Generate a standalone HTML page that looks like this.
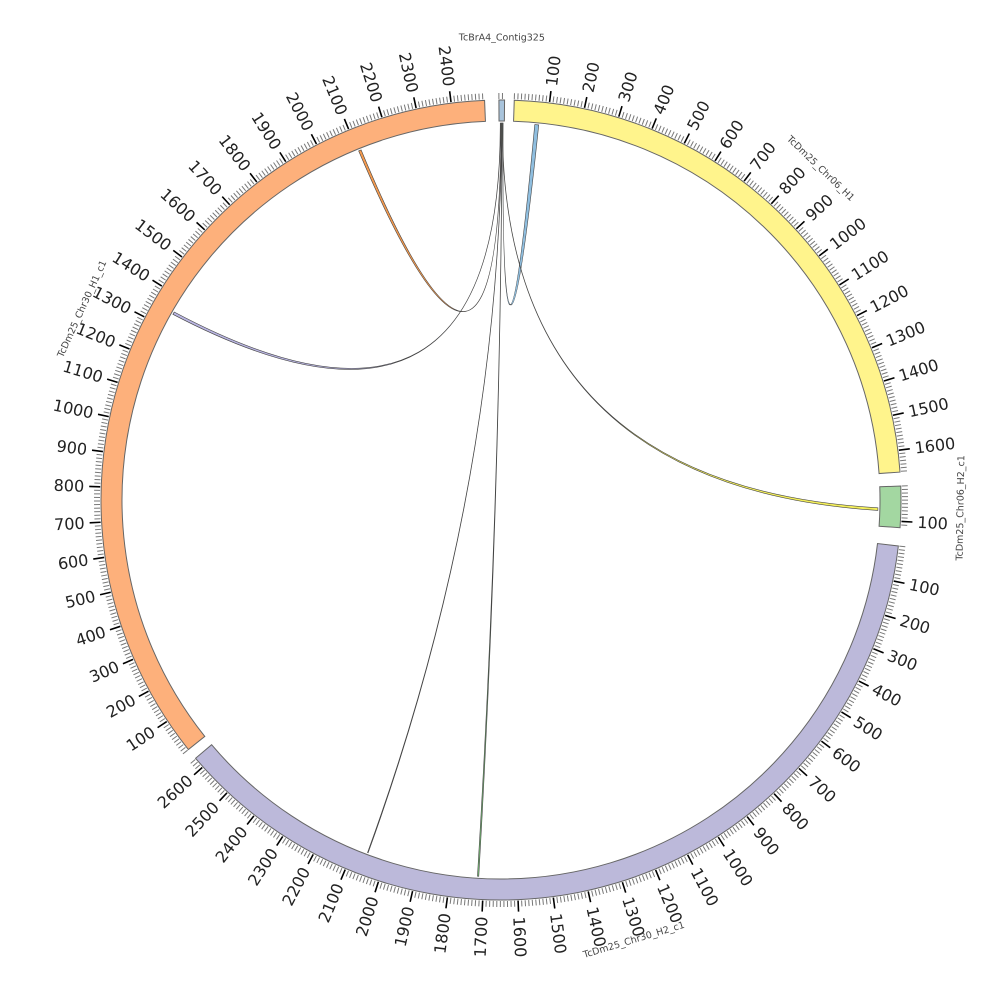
<!DOCTYPE html>
<html><head><meta charset="utf-8"><style>
html,body{margin:0;padding:0;background:#fff;width:1000px;height:1000px;overflow:hidden}
svg{display:block}
text{font-family:"DejaVu Sans","Liberation Sans",sans-serif}
</style></head><body>
<svg id="chart" width="1000" height="1000" viewBox="0 0 1000 1000" xmlns="http://www.w3.org/2000/svg"></svg>
<script>
// segment data
const segNames = ["TcBrA4_Contig325","TcDm25_Chr06_H1","TcDm25_Chr06_H2_c1","TcDm25_Chr30_H2_c1","TcDm25_Chr30_H1_c1"];
const segLengths = [16, 1662, 118, 2632, 2495];
const segColors = ["#a9c4dc","#fff48c","#a3d7a1","#bcb9da","#fdb07b"];
// links: source position on contig -> target segment index and position
const linkSrcPos = [12, 10, 6, 4, 8, 9];
const linkTgtSeg = [1, 2, 4, 4, 3, 3];
const linkTgtPos = [70, 67, 2107, 1350, 2057, 1717];
const linkWidth = [12, 8, 8, 8, 2, 4];
const linkColors = ["#8fbedf","#f3ee5a","#f59a4e","#b8b4e0","#777777","#7cc77a"];

const cx=501, cy=500, rIn=379, rOut=400, U=0.0506;
const segStart=[-0.3, 1.9, 88.0, 96.6, 231.4];
const svg=document.getElementById('chart');
const NS="http://www.w3.org/2000/svg";
function ang(seg,pos){return segStart[seg]+pos*U;}
function pt(a,r){const t=a*Math.PI/180;return [cx+r*Math.sin(t), cy-r*Math.cos(t)];}
function mk(tag,attrs){const e=document.createElementNS(NS,tag);for(const k in attrs)e.setAttribute(k,attrs[k]);return e;}

// links
for(let i=0;i<linkSrcPos.length;i++){
  const a1=ang(0,linkSrcPos[i]-0.3), a2=ang(0,linkSrcPos[i]+0.3);
  const w=linkWidth[i];
  const b1=ang(linkTgtSeg[i],linkTgtPos[i]-w/2), b2=ang(linkTgtSeg[i],linkTgtPos[i]+w/2);
  const p1=pt(a1,rIn-2),p2=pt(a2,rIn-2),q1=pt(b1,rIn-2),q2=pt(b2,rIn-2);
  const c=pt(0,14);
  const d=`M${p1} Q${c} ${q2} L${q1} Q${c} ${p2} Z`;
  const path=mk('path',{d:d,fill:linkColors[i],stroke:'#444','stroke-width':0.6});
  
  
  svg.appendChild(path);
}

// segments
for(let s=0;s<segNames.length;s++){
  const a0=segStart[s], a1=segStart[s]+segLengths[s]*U;
  const large=(a1-a0)>180?1:0;
  const o0=pt(a0,rOut),o1=pt(a1,rOut),i1=pt(a1,rIn),i0=pt(a0,rIn);
  const d=`M${o0} A${rOut},${rOut} 0 ${large} 1 ${o1} L${i1} A${rIn},${rIn} 0 ${large} 0 ${i0} Z`;
  const g=mk('g',{});
  
  
  const p=mk('path',{d:d,fill:segColors[s],stroke:'#666','stroke-width':1});
  
  
  g.appendChild(p);
  // ticks
  for(let v=0; v<=segLengths[s]; v+=10){
    const a=ang(s,v);
    const major=(v%100===0 && v>0);
    const t0=pt(a,rOut+1), t1=pt(a,rOut+(major?12:7));
    const ln=mk('line',{x1:t0[0],y1:t0[1],x2:t1[0],y2:t1[1],stroke:major?'#000':'#777','stroke-width':major?1.6:1});
    
    
    g.appendChild(ln);
    if(major){
      const lp=pt(a,rOut+17);
      const right=a%360<180;
      const rot=right? a-90 : a+90;
      const tx=mk('text',{x:lp[0],y:lp[1],'font-size':16,fill:'#222','text-anchor':right?'start':'end','dominant-baseline':'central',transform:`rotate(${rot} ${lp[0]} ${lp[1]})`});
      tx.textContent=v;
      
      
      g.appendChild(tx);
    }
  }
  // name label
  const mid=(a0+a1)/2;
  let lr=s===0?462:460;
  const lp=pt(mid,lr);
  let m=((mid%360)+360)%360;
  const rot=(m>90&&m<270)?m-180:(m>=270?m-360:m);
  const nt=mk('text',{x:lp[0],y:lp[1],'font-size':9.5,fill:'#444','text-anchor':'middle','dominant-baseline':'central',transform:`rotate(${rot} ${lp[0]} ${lp[1]})`});
  nt.textContent=segNames[s];
  
  
  g.appendChild(nt);
  svg.appendChild(g);
}
</script>
</body></html>
